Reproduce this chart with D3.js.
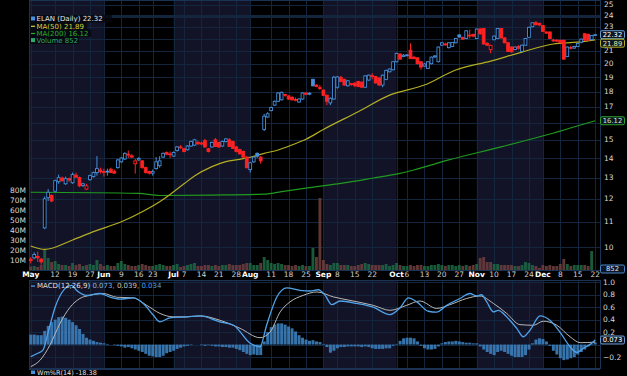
<!DOCTYPE html>
<html>
<head>
<meta charset="utf-8">
<script src="https://cdn.jsdelivr.net/npm/d3@7"></script>
<style>
  html, body { margin: 0; padding: 0; background: #000; }
  svg { display: block; font-family: "DejaVu Sans", Verdana, sans-serif; }
</style>
</head>
<body>
<script>
// ---- data ----
const holidays = ["2025-05-26", "2025-06-19", "2025-07-04", "2025-09-01", "2025-11-27"];

const tickDays = ["2025-05-01","2025-05-12","2025-05-19","2025-05-27","2025-06-02","2025-06-09","2025-06-16","2025-06-23",
  "2025-07-01","2025-07-07","2025-07-14","2025-07-21","2025-07-28","2025-08-01","2025-08-11","2025-08-18","2025-08-25",
  "2025-09-02","2025-09-08","2025-09-15","2025-09-22","2025-10-01","2025-10-06","2025-10-13","2025-10-20","2025-10-27",
  "2025-11-03","2025-11-10","2025-11-17","2025-11-24","2025-12-01","2025-12-08","2025-12-15","2025-12-22"];
const tickLabels = ["May","12","19","27","Jun","9","16","23","Jul","7","14","21","28","Aug","11","18","25",
  "Sep","8","15","22","Oct","6","13","20","27","Nov","10","17","24","Dec","8","15","22"];

// open, high, low, close - one row per trading day from 1 May 2025
const ohlc = [
  [9.55,9.62,9.40,9.50],[9.60,9.80,9.55,9.72],[9.65,9.83,9.45,9.60],[9.55,9.60,9.35,9.45],[10.75,12.10,10.70,12.00],
  [12.05,12.45,11.90,12.30],[12.15,12.20,11.85,11.90],[12.35,12.90,12.30,12.85],[12.80,13.15,12.70,13.00],[12.98,13.05,12.80,12.85],
  [12.70,13.05,12.65,12.95],[12.95,13.00,12.80,12.88],[12.75,13.25,12.70,13.15],[13.12,13.25,13.00,13.02],[13.00,13.05,12.55,12.60],
  [12.62,12.75,12.55,12.70],[12.45,12.70,12.40,12.60],[12.90,13.15,12.85,13.10],[13.05,13.30,13.00,13.25],[13.25,14.10,13.10,13.45],
  [13.38,13.50,13.20,13.30],[13.30,13.45,13.05,13.28],[13.28,13.45,13.10,13.32],[13.42,13.50,13.22,13.25],[13.30,13.40,13.20,13.22],
  [13.50,13.95,13.45,13.90],[13.80,14.05,13.75,14.00],[13.95,14.30,13.90,14.25],[14.20,14.40,14.00,14.18],[14.12,14.20,14.00,14.05],
  [13.70,13.95,13.20,13.85],[13.90,14.05,13.85,13.98],[13.85,13.90,13.45,13.50],[13.50,13.55,13.20,13.25],[13.30,13.35,13.15,13.22],
  [13.22,13.40,13.10,13.30],[13.45,14.05,13.40,13.80],[13.60,14.10,13.50,13.85],[14.05,14.30,14.00,14.25],[14.30,14.35,14.15,14.20],
  [14.22,14.35,14.00,14.18],[14.10,14.35,14.05,14.30],[14.40,14.65,14.35,14.60],[14.60,14.70,14.50,14.58],[14.50,14.55,14.30,14.35],
  [14.45,14.70,14.40,14.65],[14.65,14.95,14.60,14.90],[14.70,15.05,14.65,15.00],[14.85,14.95,14.70,14.78],[14.82,14.90,14.70,14.76],
  [14.95,15.05,14.55,14.60],[14.50,14.55,14.30,14.35],[14.60,14.90,14.55,14.85],[15.00,15.10,14.60,14.62],[14.85,14.90,14.55,14.60],
  [14.65,14.95,14.60,14.90],[14.90,15.10,14.85,15.05],[15.00,15.10,14.60,14.62],[14.90,14.95,14.50,14.52],[14.60,14.65,14.30,14.35],
  [14.45,14.50,14.20,14.22],[14.35,14.40,14.00,14.05],[14.05,14.10,13.45,13.50],[13.40,13.80,13.25,13.75],[13.80,14.10,13.75,14.05],
  [14.25,14.30,14.00,14.10],[14.05,14.10,13.70,13.85],[15.60,16.55,15.50,16.40],[16.35,16.65,16.30,16.55],[16.75,17.00,16.70,16.95],
  [17.10,17.40,17.05,17.35],[17.35,17.95,17.30,17.90],[17.45,18.00,17.40,17.95],[17.80,17.85,17.65,17.75],[17.70,17.75,17.45,17.50],
  [17.60,17.70,17.40,17.45],[17.47,17.60,17.35,17.44],[17.30,17.55,17.25,17.50],[17.50,17.95,17.45,17.90],[17.90,17.95,17.75,17.82],
  [17.82,17.95,17.75,17.88],[18.85,18.90,18.35,18.40],[18.45,18.50,18.30,18.35],[18.27,18.45,18.10,18.25],[18.10,18.15,17.70,17.75],
  [17.75,17.80,17.10,17.35],[17.25,17.60,17.10,17.55],[17.50,19.10,17.45,19.00],[18.30,19.10,18.20,19.02],[19.00,19.10,18.65,18.70],
  [18.85,18.90,18.40,18.45],[18.40,18.80,18.35,18.75],[18.55,18.60,18.40,18.48],[18.58,18.65,18.30,18.42],[18.70,18.75,18.30,18.35],
  [18.65,18.70,18.25,18.30],[18.30,19.15,18.25,19.10],[18.80,19.20,18.75,19.15],[19.12,19.30,18.85,19.10],[19.05,19.10,18.55,18.60],
  [18.95,19.00,18.40,18.45],[18.45,19.20,18.30,19.15],[18.85,19.55,18.80,19.50],[19.40,19.65,19.35,19.60],[19.55,20.20,19.50,20.15],
  [20.15,20.85,20.10,20.80],[20.75,20.80,20.30,20.35],[20.55,20.75,20.50,20.65],[20.62,20.75,20.55,20.68],[21.05,21.60,20.35,20.40],
  [20.50,20.60,20.35,20.38],[20.45,20.50,19.95,20.00],[20.15,20.20,19.55,19.75],[19.82,20.05,19.75,19.98],[19.65,20.20,19.60,20.15],
  [20.00,20.55,19.95,20.50],[20.52,20.65,20.45,20.60],[20.15,21.35,20.10,21.30],[21.45,21.70,21.40,21.65],[21.55,21.65,21.40,21.48],
  [21.25,21.70,21.20,21.65],[21.35,21.70,21.30,21.68],[21.65,22.05,21.60,22.00],[22.30,22.35,22.10,22.12],[22.10,22.15,21.90,21.95],
  [22.00,22.70,21.95,22.65],[22.28,22.75,22.00,22.25],[22.35,22.40,22.10,22.20],[22.00,22.85,21.95,22.80],[22.80,22.90,22.30,22.40],
  [22.85,22.90,21.50,21.55],[21.60,21.70,21.40,21.45],[21.10,21.50,20.80,21.42],[21.90,22.25,21.85,22.20],[22.00,22.90,21.95,22.85],
  [22.85,22.90,22.00,22.05],[22.05,22.10,21.60,21.65],[21.65,21.70,20.90,20.95],[21.30,21.35,20.85,20.92],[21.10,21.35,21.05,21.30],
  [21.35,21.45,21.10,21.20],[20.95,21.50,20.90,21.45],[21.45,22.05,21.40,22.00],[22.10,23.00,22.05,22.95],[23.00,23.40,22.95,23.35],
  [23.35,23.50,23.10,23.20],[23.30,23.35,23.05,23.15],[23.10,23.15,22.55,22.60],[22.55,22.60,22.40,22.45],[22.55,22.60,21.95,22.00],
  [21.87,22.00,21.70,21.85],[21.85,21.95,21.70,21.82],[21.85,21.90,21.60,21.65],[21.85,21.90,20.30,20.35],[20.55,21.35,20.50,21.30],
  [21.27,21.40,21.10,21.25],[21.22,21.40,21.15,21.35],[21.35,21.65,21.30,21.60],[21.70,22.00,21.60,21.95],[22.40,22.45,21.80,21.88],
  [22.35,22.40,21.80,21.85],[21.90,22.30,21.85,22.25],[22.25,22.40,22.20,22.32]
];

// volume, millions of shares
const volume = [
  3.5,4,3,5,21,12,8,9,6,5, 5,4,7,5,6,4,5,6,5,10, 6,4,5,4,4,7,9,6,5,4, 4,5,6,5,4,4,5,6,5,4,
  4,5,6,3,4,5,6,7,4,4, 5,5,4,5,4,5,5,6,5,5, 5,6,7,7,5,5,7,13,10,7, 6,7,6,5,5,4,5,4,5,4,
  4,22,13,72,10,6,5,7,7,5, 5,5,4,4,5,6,7,6,5,5, 5,5,6,4,5,7,5,4,4,5, 4,5,5,4,4,5,5,6,5,4,
  5,5,4,5,4,5,4,5,6,12, 13,8,8,6,6,5,5,5,5,4, 4,5,8,7,5,4,2,5,4,5, 4,4,6,11,6,4,5,5,5,5,
  4,19,0.000852
];

// moving averages: [trading-day index, value]
const ma50 = [[0,10.04],[4,9.91],[12,10.27],[18,10.6],[26,11.0],[32,11.43],[37,11.87],[40,12.2],[44,12.7],[47,13.08],
  [52,13.55],[56,13.81],[60,13.93],[63,14.04],[67,14.25],[71,14.43],[75,14.71],[79,15.03],[84,15.6],[94,16.68],
  [103,17.76],[113,18.45],[122,19.53],[132,20.2],[141,20.9],[150,21.55],[157,21.7],[162,21.89]];
const ma200 = [[0,12.30],[31,12.25],[37,12.15],[52,12.17],[67,12.21],[72,12.33],[80,12.52],[89,12.72],[98,12.97],
  [106,13.21],[110,13.38],[120,13.9],[135,14.6],[149,15.33],[162,16.12]];

// MACD(12,26,9): [trading-day index, value]
const macdLine = [[0,-0.195],[2,-0.14],[3.5,-0.09],[5,0.2],[7,0.6],[9,0.84],[10.3,0.92],[11.8,0.95],[13.2,0.87],[16.1,0.79],
  [19.9,0.82],[22.8,0.76],[25.6,0.73],[29.4,0.75],[32.3,0.66],[35.2,0.47],[37.1,0.365],[40,0.43],[44.8,0.445],[48.6,0.46],
  [54.3,0.365],[58.2,0.31],[63,0.02],[65.8,-0.035],[67.7,0.31],[70.6,0.76],[73.5,0.91],[77.3,0.87],[80.2,0.86],[82.5,0.88],
  [84.5,0.79],[86.4,0.64],[88.8,0.70],[93.6,0.66],[98.3,0.6],[103.1,0.48],[106,0.59],[108.4,0.75],[110.8,0.685],[114.1,0.535],
  [116.5,0.52],[119.4,0.63],[123.2,0.74],[126.1,0.82],[128,0.78],[129.4,0.8],[130.9,0.685],[132.8,0.525],[134.2,0.55],[136.6,0.445],
  [139.5,0.26],[141.4,0.125],[143.3,0.23],[146.2,0.46],[149,0.39],[151.9,0.2],[154.8,-0.035],[156.7,-0.125],[158.6,-0.06],
  [161,0.02],[162,0.073]];
const signalLine = [[0,-0.355],[2.7,-0.25],[5.5,-0.01],[8.4,0.34],[11.3,0.6],[14.1,0.74],[17,0.79],[20.8,0.82],[24.7,0.76],
  [29.4,0.75],[33.3,0.63],[37.1,0.5],[40.9,0.445],[44.8,0.445],[48.6,0.46],[54.3,0.39],[60.1,0.26],[65.8,0.11],[68.7,0.2],
  [71.6,0.525],[74.4,0.685],[78.2,0.79],[82.1,0.845],[86.9,0.765],[91.6,0.71],[98.3,0.63],[103.1,0.55],[107.9,0.63],[111.7,0.7],
  [116.5,0.58],[120.3,0.64],[125.1,0.74],[128.9,0.78],[132.8,0.66],[136.6,0.5],[140.4,0.32],[144.3,0.31],[147.1,0.375],
  [151,0.31],[154.8,0.125],[157.7,0.03],[162,0.039]];
const histogram = [
  0.16,0.16,0.15,0.15,0.22,0.3,0.36,0.4,0.44,0.45, 0.43,0.4,0.36,0.31,0.25,0.17,0.11,0.08,0.06,0.04,
  0.03,0.02,0.01,0.0,-0.01,-0.02,-0.03,-0.05,-0.04,-0.06, -0.08,-0.1,-0.12,-0.15,-0.18,-0.19,-0.2,-0.2,-0.18,-0.14,
  -0.12,-0.1,-0.07,-0.05,-0.03,-0.02,-0.01,0.0,0.0,-0.01, -0.02,-0.01,-0.02,-0.03,-0.03,-0.04,-0.04,-0.05,-0.05,-0.07,
  -0.09,-0.12,-0.15,-0.17,-0.16,-0.17,-0.17,0.05,0.2,0.28, 0.32,0.34,0.34,0.32,0.29,0.26,0.21,0.15,0.11,0.08,
  0.06,0.07,0.05,0.04,0.01,-0.04,-0.13,-0.1,-0.06,-0.04, -0.04,-0.03,-0.03,-0.03,-0.03,-0.04,-0.03,-0.04,-0.06,-0.07,
  -0.07,-0.07,-0.06,-0.06,-0.02,0.01,0.06,0.1,0.11,0.11, 0.1,0.05,-0.02,-0.06,-0.08,-0.08,-0.07,-0.03,0.02,0.04,
  0.05,0.05,0.06,0.05,0.04,0.03,0.03,0.02,0.02,-0.03, -0.08,-0.12,-0.15,-0.17,-0.12,-0.1,-0.12,-0.15,-0.18,-0.2,
  -0.2,-0.2,-0.17,-0.08,0.02,0.08,0.1,0.09,0.05,-0.02, -0.1,-0.16,-0.22,-0.25,-0.24,-0.22,-0.2,-0.16,-0.12,-0.08,
  -0.03,0.01,0.034
];

const priceTicks = [10,11,12,13,14,15,16,17,18,19,20,21,22,23,24,25];
const volumeTicks = [10,20,30,40,50,60,70,80];
const macdTicks = [-0.2,0,0.2,0.4,0.6,0.8,1.0];

// ---- trading calendar ----
const fmt = d3.timeFormat("%Y-%m-%d");
const days = d3.timeDay.range(new Date(2025, 4, 1), new Date(2025, 11, 23))
  .filter(d => d.getDay() > 0 && d.getDay() < 6)
  .map(fmt)
  .filter(s => !holidays.includes(s));

// ---- layout ----
const width = 627, height = 376;
const plotL = 29, plotR = 600;
const mainTop = 0, mainBot = 270;
const macdTop = 280, macdBot = 368;

const gridColor = "#13263e";
const frameColor = "#1a3354";
const shadeColor = "#131327";
const blue = "#4690de", red = "#ff2222";

const x = d3.scaleBand().domain(days).range([plotL, plotL + days.length * 3.484]);
const bw = x.bandwidth();
const cx = i => x(days[i]) + bw / 2;

const y = d3.scaleLog().domain([10, 24]).range([247, 15.5]);
const yVol = d3.scaleLinear().domain([0, 80]).range([mainBot, 190]);
const yMacd = d3.scaleLinear().domain([-0.2, 1.0]).range([357, 282.3]);

const svg = d3.select("body").append("svg")
  .attr("width", width)
  .attr("height", height)
  .attr("viewBox", [0, 0, width, height]);

svg.append("rect").attr("width", width).attr("height", height).attr("fill", "#000");

// month shading (alternate months)
const monthStarts = tickDays.filter((d, i) => isNaN(+tickLabels[i]));
monthStarts.forEach((d, i) => {
  if (i % 2 !== 0) return;
  const x0 = i === 0 ? plotL : cx(days.indexOf(d));
  const x1 = i + 1 < monthStarts.length ? cx(days.indexOf(monthStarts[i + 1])) : plotR;
  [[mainTop, mainBot], [macdTop, macdBot]].forEach(([t, b]) => {
    svg.append("rect").attr("x", x0).attr("y", t).attr("width", x1 - x0).attr("height", b - t)
      .attr("fill", shadeColor);
  });
});

// grid
const grid = svg.append("g").attr("stroke", gridColor).attr("stroke-width", 1).attr("shape-rendering", "crispEdges");
tickDays.forEach(d => {
  const xx = Math.round(cx(days.indexOf(d))) + 0.5;
  grid.append("line").attr("x1", xx).attr("x2", xx).attr("y1", mainTop).attr("y2", mainBot);
  grid.append("line").attr("x1", xx).attr("x2", xx).attr("y1", macdTop).attr("y2", macdBot);
});
priceTicks.forEach(p => {
  const yy = Math.round(y(p)) + 0.5;
  grid.append("line").attr("x1", plotL).attr("x2", plotR).attr("y1", yy).attr("y2", yy)
    .attr("stroke-width", p === 24 ? 3 : 1);
});
macdTicks.forEach(v => {
  const yy = Math.round(yMacd(v)) + 0.5;
  grid.append("line").attr("x1", plotL).attr("x2", plotR).attr("y1", yy).attr("y2", yy);
});
[[mainTop, mainBot], [macdTop, macdBot]].forEach(([t, b]) => {
  grid.append("rect").attr("x", plotL + 0.5).attr("y", t + 0.5).attr("width", plotR - plotL).attr("height", b - t)
    .attr("fill", "none").attr("stroke", frameColor);
});

// volume bars
const isUp = i => ohlc[i][3] >= (i === 0 ? ohlc[0][0] : ohlc[i - 1][3]);
svg.append("g")
  .selectAll("rect")
  .data(volume)
  .join("rect")
  .attr("x", (v, i) => x(days[i]) + 0.3)
  .attr("width", bw - 0.6)
  .attr("y", v => yVol(v))
  .attr("height", v => mainBot - yVol(v))
  .attr("fill", (v, i) => isUp(i) ? "#1d6a45" : "#6e4040")
  .attr("fill-opacity", 0.85);

// moving averages
const maLine = d3.line().x(d => cx(0) + d[0] * 3.484).y(d => y(d[1])).curve(d3.curveMonotoneX);
svg.append("path").attr("d", maLine(ma200)).attr("fill", "none").attr("stroke", "#1f9a1f").attr("stroke-width", 1.2);
svg.append("path").attr("d", maLine(ma50)).attr("fill", "none").attr("stroke", "#b3ae24").attr("stroke-width", 1.2);

// candles
const candles = svg.append("g");
ohlc.forEach(([o, h, l, c], i) => {
  const col = isUp(i) ? blue : red;
  const hollow = c > o;
  const xc = cx(i);
  const top = y(Math.max(o, c)), bot = y(Math.min(o, c));
  candles.append("line").attr("x1", xc).attr("x2", xc).attr("y1", y(h)).attr("y2", top).attr("stroke", col);
  candles.append("line").attr("x1", xc).attr("x2", xc).attr("y1", bot).attr("y2", y(l)).attr("stroke", col);
  candles.append("rect")
    .attr("x", xc - 1.4).attr("width", 2.8)
    .attr("y", top).attr("height", Math.max(bot - top, 0.8))
    .attr("fill", hollow ? "#000" : col)
    .attr("stroke", col).attr("stroke-width", 0.9);
});

// MACD histogram and lines
svg.append("g")
  .selectAll("rect")
  .data(histogram)
  .join("rect")
  .attr("x", (v, i) => x(days[i]) + 0.3)
  .attr("width", bw - 0.5)
  .attr("y", v => Math.min(yMacd(v), yMacd(0)))
  .attr("height", v => Math.abs(yMacd(v) - yMacd(0)))
  .attr("fill", "#3c80bd")
  .attr("fill-opacity", 0.9);

const macdPath = d3.line().x(d => cx(0) + d[0] * 3.484).y(d => yMacd(d[1])).curve(d3.curveMonotoneX);
svg.append("path").attr("d", macdPath(signalLine)).attr("fill", "none").attr("stroke", "#b8b8b8").attr("stroke-width", 1);
svg.append("path").attr("d", macdPath(macdLine)).attr("fill", "none").attr("stroke", "#4fa3ea").attr("stroke-width", 1.3);

// value tags on right axis (stacked so they do not cover each other)
const last = ohlc.length - 1;
const tagH = 8;
const tags = [
  { y: y(ohlc[last][3]), t: "22.32", s: "#6a9cd0", c: "#ffffff" },
  { y: y(ma50[ma50.length - 1][1]), t: "21.89", s: "#b3ae24", c: "#e8e6a0" },
  { y: y(ma200[ma200.length - 1][1]), t: "16.12", s: "#2aa02a", c: "#cfe8cf" },
  { y: yVol(0) - 1, t: "852", s: "#4a86c8", c: "#dfe8f5" },
  { y: yMacd(macdLine[macdLine.length - 1][1]), t: "0.073", s: "#6a9cd0", c: "#ffffff" }
];
tags.forEach((t, i) => {
  if (i > 0 && t.y - tags[i - 1].y < tagH + 0.5) t.y = tags[i - 1].y + tagH + 0.5;
});
const hiddenByTag = yy => tags.some(t => Math.abs(t.y - yy) < 6);

// axes labels
const labelFont = 7.5;
svg.append("g")
  .attr("font-size", labelFont).attr("fill", "#d8d8d8").attr("text-anchor", "start")
  .selectAll("text")
  .data(priceTicks.filter(d => !hiddenByTag(y(d))))
  .join("text")
  .attr("x", 604).attr("y", d => y(d)).attr("dy", "0.35em")
  .text(d => d);

svg.append("g")
  .attr("font-size", labelFont).attr("fill", "#d8d8d8").attr("text-anchor", "end")
  .selectAll("text")
  .data(volumeTicks)
  .join("text")
  .attr("x", 26).attr("y", d => yVol(d)).attr("dy", "0.35em")
  .text(d => d + "M");

svg.append("g")
  .attr("font-size", labelFont).attr("fill", "#d8d8d8").attr("text-anchor", "start")
  .selectAll("text")
  .data(macdTicks.filter(d => !hiddenByTag(yMacd(d))))
  .join("text")
  .attr("x", 603).attr("y", d => yMacd(d)).attr("dy", "0.35em")
  .text(d => d3.format(".1f")(d));

svg.append("g")
  .attr("font-size", labelFont).attr("text-anchor", "middle")
  .selectAll("text")
  .data(tickDays)
  .join("text")
  .attr("x", d => cx(days.indexOf(d)))
  .attr("y", 274.5).attr("dy", "0.35em")
  .attr("font-weight", (d, i) => isNaN(+tickLabels[i]) ? "bold" : "normal")
  .attr("fill", (d, i) => isNaN(+tickLabels[i]) ? "#ffffff" : "#cfcfcf")
  .text((d, i) => tickLabels[i]);

tags.forEach(t => {
  const g = svg.append("g");
  g.append("rect").attr("x", 600.5).attr("y", t.y - tagH / 2).attr("width", 24).attr("height", tagH).attr("rx", 1.5)
    .attr("fill", "#0c1624").attr("stroke", t.s);
  g.append("text").attr("x", 612.5).attr("y", t.y).attr("dy", "0.35em").attr("text-anchor", "middle")
    .attr("font-size", 6.8).attr("fill", t.c).text(t.t);
});

// legends
const leg = svg.append("g").attr("font-size", 7);
const legRows = [
  { t: "ELAN (Daily) 22.32", c: "#e6e6e6", icon: blue },
  { t: "MA(50) 21.89", c: "#d6d23a", icon: "#d6d23a" },
  { t: "MA(200) 16.12", c: "#27b027", icon: "#27b027" },
  { t: "Volume 852", c: "#2fa86a", icon: "#2fa86a" }
];
legRows.forEach((r, i) => {
  const yy = 19 + i * 7.2;
  leg.append("rect").attr("x", 30).attr("y", yy - 4).attr("width", r.t.length * 4.1 + 8).attr("height", 7.4)
    .attr("fill", "#05070d").attr("fill-opacity", 0.8);
  leg.append("rect").attr("x", 31).attr("y", i === 0 || i === 3 ? yy - 2.5 : yy - 0.5)
    .attr("width", 4).attr("height", i === 0 || i === 3 ? 4 : 1.2).attr("fill", r.icon);
  leg.append("text").attr("x", 36.5).attr("y", yy).attr("dy", "0.35em").attr("fill", r.c).text(r.t);
});

const macdLeg = svg.append("g").attr("font-size", 7);
macdLeg.append("rect").attr("x", 31).attr("y", 285.5).attr("width", 4).attr("height", 1.2).attr("fill", "#4fa3ea");
const mt = macdLeg.append("text").attr("x", 37).attr("y", 286).attr("dy", "0.35em").attr("fill", "#e0e0e0");
mt.append("tspan").text("MACD(12,26,9) ");
mt.append("tspan").attr("fill", "#7fb8ee").text("0.073, ");
mt.append("tspan").attr("fill", "#c4c4c4").text("0.039, ");
mt.append("tspan").attr("fill", "#4fa3ea").text("0.034");

// Williams %R panel (only its header is in view)
svg.append("line").attr("x1", plotL).attr("x2", plotR).attr("y1", 369.5).attr("y2", 369.5).attr("stroke", frameColor);
svg.append("rect").attr("x", 31).attr("y", 370.5).attr("width", 4).attr("height", 3.5).attr("fill", blue);
svg.append("text").attr("x", 37).attr("y", 372.3).attr("dy", "0.35em").attr("font-size", 6.5).attr("fill", "#e0e0e0")
  .text("Wm%R(14) -18.38");
</script>
</body>
</html>
